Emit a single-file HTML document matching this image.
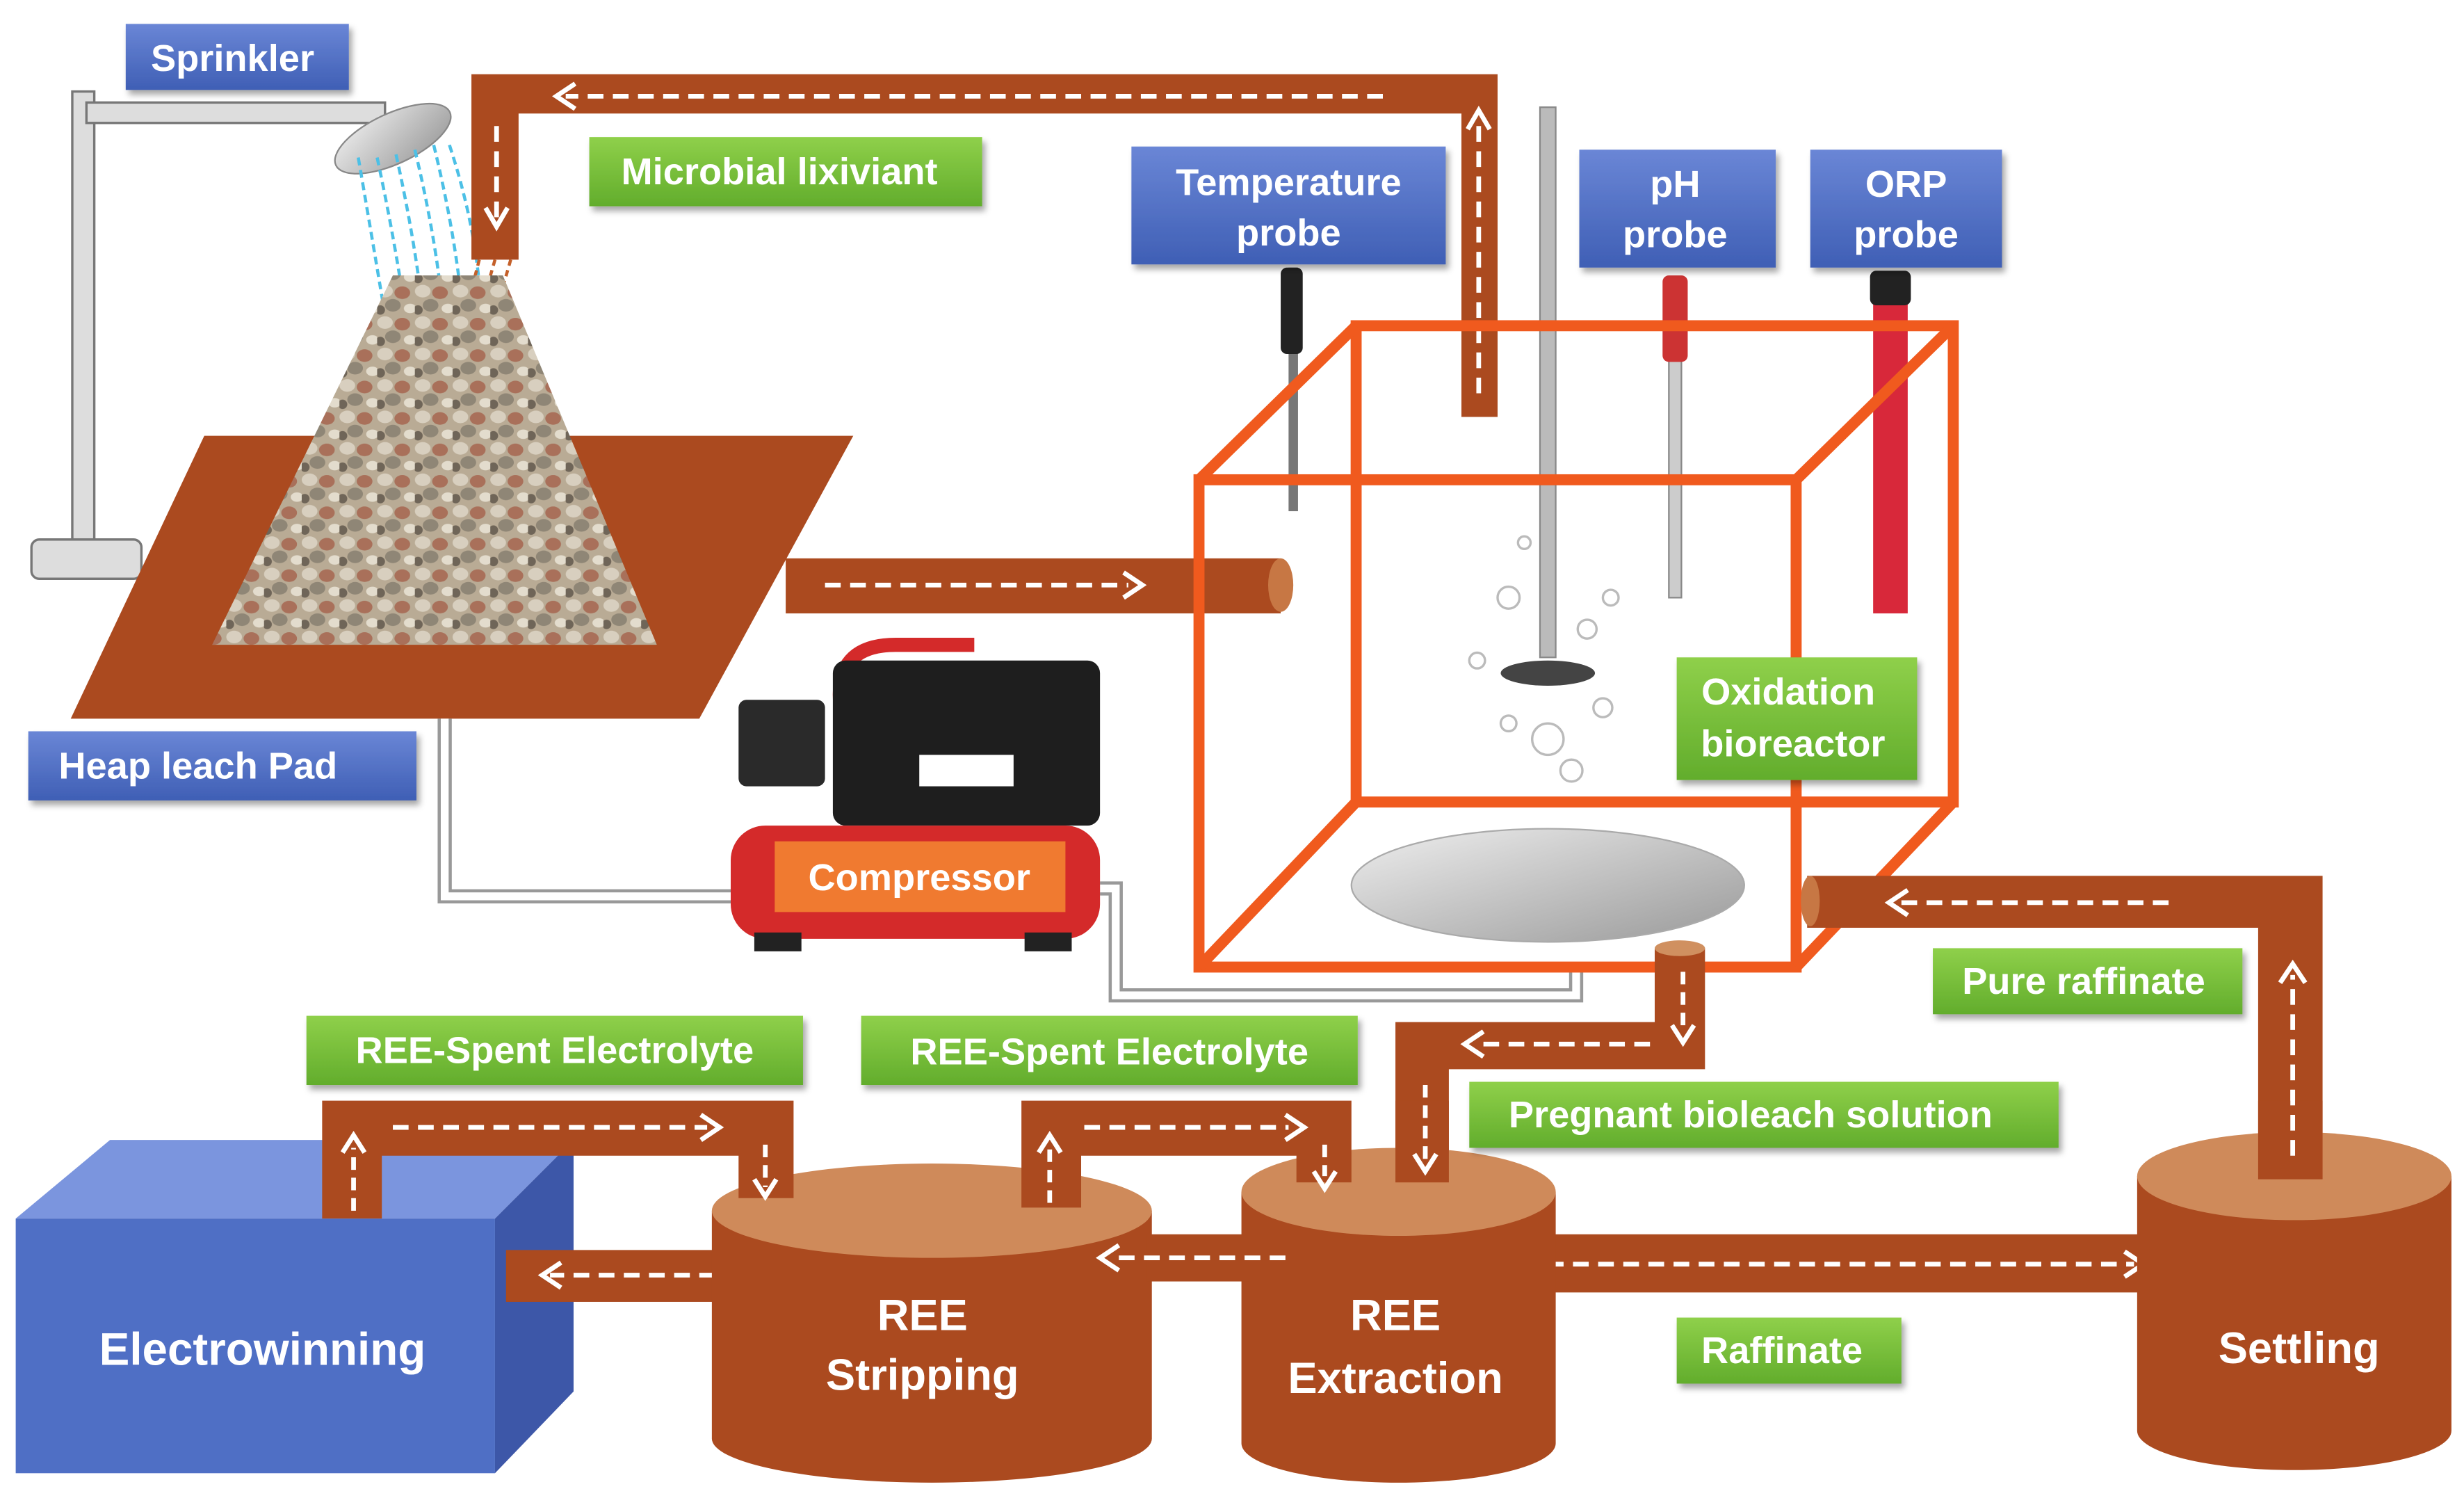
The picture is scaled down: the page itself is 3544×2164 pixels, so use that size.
<!DOCTYPE html>
<html><head><meta charset="utf-8"><style>
html,body{margin:0;padding:0;background:#fff;}
svg{display:block;}
text{font-family:"Liberation Sans",sans-serif;font-weight:bold;fill:#fff;}
</style></head><body>
<svg width="3544" height="2164" viewBox="0 0 1568 957" xmlns="http://www.w3.org/2000/svg">
<defs>
<linearGradient id="gb" x1="0" y1="0" x2="0" y2="1"><stop offset="0" stop-color="#6a86d6"/><stop offset="1" stop-color="#3f5fb5"/></linearGradient>
<linearGradient id="gg" x1="0" y1="0" x2="0" y2="1"><stop offset="0" stop-color="#8fd04a"/><stop offset="1" stop-color="#62ad2c"/></linearGradient>
<linearGradient id="gs" x1="0" y1="0" x2="1" y2="1"><stop offset="0" stop-color="#eee"/><stop offset="1" stop-color="#999"/></linearGradient>
<pattern id="rocks" width="24" height="20" patternUnits="userSpaceOnUse">
<rect width="24" height="20" fill="#b9ab95"/>
<ellipse cx="5" cy="5" rx="5" ry="4" fill="#d8cfbf"/>
<ellipse cx="16" cy="6" rx="5" ry="4" fill="#a9705a"/>
<ellipse cx="10" cy="14" rx="5" ry="4" fill="#8f8676"/>
<ellipse cx="21" cy="16" rx="4" ry="3" fill="#e3dccd"/>
<ellipse cx="2" cy="17" rx="3" ry="3" fill="#6f6558"/>
</pattern>
<filter id="sh"><feDropShadow dx="2" dy="3" stdDeviation="2" flood-opacity="0.35"/></filter>
</defs>

<rect x="46" y="58" width="14" height="290" fill="#ddd" stroke="#777" stroke-width="1.5"/>
<rect x="55" y="65" width="190" height="13" fill="#ddd" stroke="#777" stroke-width="1.5"/>
<rect x="20" y="343" width="70" height="25" rx="5" fill="#ddd" stroke="#777" stroke-width="1.5"/>
<ellipse cx="250" cy="88" rx="40" ry="16" transform="rotate(-25 250 88)" fill="url(#gs)" stroke="#888"/>
<g stroke="#4cc0e6" stroke-width="2" stroke-dasharray="5 3" fill="none">
<path d="M228 100 Q240 170 250 230"/><path d="M240 100 Q255 170 262 230"/><path d="M252 98 Q268 170 272 230"/><path d="M264 95 Q282 170 284 230"/><path d="M276 92 Q295 170 296 230"/><path d="M286 92 Q305 150 306 200"/>
</g>
<g stroke="#c4602a" stroke-width="2" stroke-dasharray="4 3" fill="none">
<path d="M315 165 Q305 200 290 250"/><path d="M325 165 Q315 200 300 250"/><path d="M305 165 Q296 200 282 250"/>
</g>

<path d="M300 47 H953 V265 H930 V72 H330 V165 H300 Z" fill="#ab4a1f"/>
<g stroke="#fff" stroke-width="3" stroke-dasharray="10 6" fill="none">
<line x1="880" y1="61" x2="360" y2="61"/>
<line x1="316" y1="80" x2="316" y2="138"/>
<line x1="941" y1="250" x2="941" y2="78"/>
</g>
<g stroke="#fff" stroke-width="3" fill="none">
<polyline points="366,53 354,61 366,69"/>
<polyline points="309,132 316,144 323,132"/>
<polyline points="934,82 941,70 948,82"/>
</g>

<polygon points="130,277 543,277 445,457 45,457" fill="#ab4a1f"/>
<polygon points="135,410 418,410 320,175 250,175" fill="url(#rocks)"/>
<rect x="500" y="355" width="315" height="35" fill="#ab4a1f"/>
<ellipse cx="815" cy="372" rx="8" ry="17" fill="#c77744"/>
<line x1="525" y1="372" x2="718" y2="372" stroke="#fff" stroke-width="3" stroke-dasharray="10 6"/>
<polyline points="715,364 727,372 715,380" stroke="#fff" stroke-width="3" fill="none"/>

<path d="M283 457 V570 H470" fill="none" stroke="#999" stroke-width="9"/>
<path d="M283 457 V570 H470" fill="none" stroke="#fff" stroke-width="5"/>
<path d="M700 565 H710 V633 H1003 V612" fill="none" stroke="#999" stroke-width="9"/>
<path d="M700 565 H710 V633 H1003 V612" fill="none" stroke="#fff" stroke-width="5"/>

<path d="M535 450 Q530 410 570 410 H620" fill="none" stroke="#d42a2a" stroke-width="9"/>
<rect x="530" y="420" width="170" height="105" rx="8" fill="#1e1e1e"/>
<rect x="470" y="445" width="55" height="55" rx="5" fill="#2a2a2a"/>
<rect x="585" y="480" width="60" height="20" fill="#fff"/>
<rect x="465" y="525" width="235" height="72" rx="22" fill="#d42a2a"/>
<rect x="480" y="593" width="30" height="12" fill="#222"/><rect x="652" y="593" width="30" height="12" fill="#222"/>
<rect x="493" y="535" width="185" height="45" fill="#f07a30"/>
<text x="585" y="566" font-size="24" text-anchor="middle">Compressor</text>

<rect x="980" y="68" width="10" height="350" fill="#bbb" stroke="#888"/>
<ellipse cx="985" cy="428" rx="30" ry="8" fill="#444"/>
<g fill="none" stroke="#bbb" stroke-width="1.5">
<circle cx="960" cy="380" r="7"/><circle cx="1010" cy="400" r="6"/><circle cx="940" cy="420" r="5"/><circle cx="985" cy="470" r="10"/><circle cx="1020" cy="450" r="6"/><circle cx="960" cy="460" r="5"/><circle cx="1000" cy="490" r="7"/><circle cx="970" cy="345" r="4"/><circle cx="1025" cy="380" r="5"/>
</g>
<ellipse cx="985" cy="563" rx="125" ry="36" fill="url(#gs)" stroke="#aaa"/>
<rect x="820" y="170" width="6" height="155" fill="#777"/><rect x="815" y="170" width="14" height="55" rx="4" fill="#222"/>
<rect x="1062" y="180" width="8" height="200" fill="#ccc" stroke="#888"/><rect x="1058" y="175" width="16" height="55" rx="4" fill="#c33"/>
<rect x="1192" y="180" width="22" height="210" fill="#d8283a"/><rect x="1190" y="172" width="26" height="22" rx="4" fill="#222"/>

<g fill="none" stroke="#f05a1e" stroke-width="7">
<rect x="863" y="207" width="380" height="303"/>
<rect x="763" y="305" width="380" height="310"/>
<line x1="763" y1="305" x2="863" y2="207"/><line x1="1143" y1="305" x2="1243" y2="207"/>
<line x1="763" y1="615" x2="863" y2="510"/><line x1="1143" y1="615" x2="1243" y2="510"/>
</g>

<path d="M1150 557 H1478 V750 H1437 V590 H1150 Z" fill="#ab4a1f"/>
<ellipse cx="1152" cy="573" rx="6" ry="16" fill="#c77744"/>
<line x1="1380" y1="574" x2="1210" y2="574" stroke="#fff" stroke-width="3" stroke-dasharray="10 6"/>
<polyline points="1214,566 1202,574 1214,582" stroke="#fff" stroke-width="3" fill="none"/>
<line x1="1459" y1="735" x2="1459" y2="620" stroke="#fff" stroke-width="3" stroke-dasharray="10 6"/>
<polyline points="1451,625 1459,613 1467,625" stroke="#fff" stroke-width="3" fill="none"/>

<path d="M1053 603 H1085 V680 H922 V752 H888 V650 H1053 Z" fill="#ab4a1f"/>
<ellipse cx="1069" cy="603" rx="16" ry="5" fill="#d09060"/>
<line x1="1071" y1="618" x2="1071" y2="655" stroke="#fff" stroke-width="3" stroke-dasharray="8 5"/>
<polyline points="1064,652 1071,663 1078,652" stroke="#fff" stroke-width="3" fill="none"/>
<line x1="1050" y1="664" x2="940" y2="664" stroke="#fff" stroke-width="3" stroke-dasharray="10 6"/>
<polyline points="944,656 932,664 944,672" stroke="#fff" stroke-width="3" fill="none"/>

<polygon points="10,775 70,725 365,725 315,775" fill="#7b95de"/>
<polygon points="315,775 365,725 365,885 315,937" fill="#3d57a8"/>
<rect x="10" y="775" width="305" height="162" fill="#4f6fc5"/>
<text x="167" y="868" font-size="29" text-anchor="middle">Electrowinning</text>

<rect x="322" y="795" width="140" height="33" fill="#ab4a1f"/>
<line x1="455" y1="811" x2="350" y2="811" stroke="#fff" stroke-width="3" stroke-dasharray="10 6"/>
<polyline points="357,803 345,811 357,819" stroke="#fff" stroke-width="3" fill="none"/>
<rect x="985" y="785" width="385" height="37" fill="#ab4a1f"/>
<line x1="985" y1="804" x2="1358" y2="804" stroke="#fff" stroke-width="3" stroke-dasharray="10 6"/>
<polyline points="1352,796 1364,804 1352,812" stroke="#fff" stroke-width="3" fill="none"/>

<g>
<path d="M453 770 V915 A140 28 0 0 0 733 915 V770 Z" fill="#ab4a1f"/>
<ellipse cx="593" cy="770" rx="140" ry="30" fill="#cf8a5a"/>
<text x="587" y="846" font-size="28" text-anchor="middle">REE</text>
<text x="587" y="884" font-size="28" text-anchor="middle">Stripping</text>
</g>
<g>
<path d="M790 758 V918 A100 25 0 0 0 990 918 V758 Z" fill="#ab4a1f"/>
<ellipse cx="890" cy="758" rx="100" ry="28" fill="#cf8a5a"/>
<text x="888" y="846" font-size="28" text-anchor="middle">REE</text>
<text x="888" y="886" font-size="28" text-anchor="middle">Extraction</text>
</g>
<g>
<path d="M1360 748 V910 A100 25 0 0 0 1560 910 V748 Z" fill="#ab4a1f"/>
<ellipse cx="1460" cy="748" rx="100" ry="28" fill="#cf8a5a"/>
<text x="1463" y="867" font-size="28" text-anchor="middle">Settling</text>
</g>

<!-- extraction -> stripping pipe on top -->
<rect x="730" y="785" width="65" height="30" fill="#ab4a1f"/>
<line x1="818" y1="800" x2="708" y2="800" stroke="#fff" stroke-width="3" stroke-dasharray="10 6"/>
<polyline points="712,792 700,800 712,808" stroke="#fff" stroke-width="3" fill="none"/>

<rect x="1437" y="700" width="41" height="50" fill="#ab4a1f"/>
<line x1="1459" y1="735" x2="1459" y2="690" stroke="#fff" stroke-width="3" stroke-dasharray="10 6"/>
<rect x="888" y="700" width="34" height="52" fill="#ab4a1f"/>
<line x1="907" y1="690" x2="907" y2="738" stroke="#fff" stroke-width="3" stroke-dasharray="8 5"/>
<polyline points="900,734 907,745 914,734" stroke="#fff" stroke-width="3" fill="none"/>

<path d="M205 775 V700 H505 V762 H470 V735 H243 V775 Z" fill="#ab4a1f"/>
<line x1="250" y1="717" x2="450" y2="717" stroke="#fff" stroke-width="3" stroke-dasharray="10 6"/>
<polyline points="446,709 458,717 446,725" stroke="#fff" stroke-width="3" fill="none"/>
<line x1="225" y1="770" x2="225" y2="730" stroke="#fff" stroke-width="3" stroke-dasharray="8 5"/>
<polyline points="218,733 225,722 232,733" stroke="#fff" stroke-width="3" fill="none"/>
<line x1="487" y1="728" x2="487" y2="755" stroke="#fff" stroke-width="3" stroke-dasharray="8 5"/>
<polyline points="480,750 487,761 494,750" stroke="#fff" stroke-width="3" fill="none"/>
<path d="M650 768 V700 H860 V752 H825 V735 H688 V768 Z" fill="#ab4a1f"/>
<line x1="690" y1="717" x2="820" y2="717" stroke="#fff" stroke-width="3" stroke-dasharray="10 6"/>
<polyline points="818,709 830,717 818,725" stroke="#fff" stroke-width="3" fill="none"/>
<line x1="668" y1="765" x2="668" y2="730" stroke="#fff" stroke-width="3" stroke-dasharray="8 5"/>
<polyline points="661,733 668,722 675,733" stroke="#fff" stroke-width="3" fill="none"/>
<line x1="843" y1="728" x2="843" y2="748" stroke="#fff" stroke-width="3" stroke-dasharray="8 5"/>
<polyline points="836,745 843,756 850,745" stroke="#fff" stroke-width="3" fill="none"/>

<g filter="url(#sh)">
<rect x="80" y="15" width="142" height="42" fill="url(#gb)"/>
<rect x="18" y="465" width="247" height="44" fill="url(#gb)"/>
<rect x="720" y="93" width="200" height="75" fill="url(#gb)"/>
<rect x="1005" y="95" width="125" height="75" fill="url(#gb)"/>
<rect x="1152" y="95" width="122" height="75" fill="url(#gb)"/>
<rect x="375" y="87" width="250" height="44" fill="url(#gg)"/>
<rect x="1067" y="418" width="153" height="78" fill="url(#gg)"/>
<rect x="1230" y="603" width="197" height="42" fill="url(#gg)"/>
<rect x="935" y="688" width="375" height="42" fill="url(#gg)"/>
<rect x="195" y="646" width="316" height="44" fill="url(#gg)"/>
<rect x="548" y="646" width="316" height="44" fill="url(#gg)"/>
<rect x="1067" y="838" width="143" height="42" fill="url(#gg)"/>
</g>
<g font-size="24">
<text x="148" y="45" text-anchor="middle">Sprinkler</text>
<text x="126" y="495" text-anchor="middle">Heap leach Pad</text>
<text x="820" y="124" text-anchor="middle">Temperature</text>
<text x="820" y="156" text-anchor="middle">probe</text>
<text x="1066" y="125" text-anchor="middle">pH</text>
<text x="1066" y="157" text-anchor="middle">probe</text>
<text x="1213" y="125" text-anchor="middle">ORP</text>
<text x="1213" y="157" text-anchor="middle">probe</text>
<text x="496" y="117" text-anchor="middle">Microbial lixiviant</text>
<text x="1138" y="448" text-anchor="middle">Oxidation</text>
<text x="1141" y="481" text-anchor="middle">bioreactor</text>
<text x="1326" y="632" text-anchor="middle">Pure raffinate</text>
<text x="1114" y="717" text-anchor="middle">Pregnant bioleach solution</text>
<text x="353" y="676" text-anchor="middle">REE-Spent Electrolyte</text>
<text x="706" y="677" text-anchor="middle">REE-Spent Electrolyte</text>
<text x="1134" y="867" text-anchor="middle">Raffinate</text>
</g>
</svg>
</body></html>
